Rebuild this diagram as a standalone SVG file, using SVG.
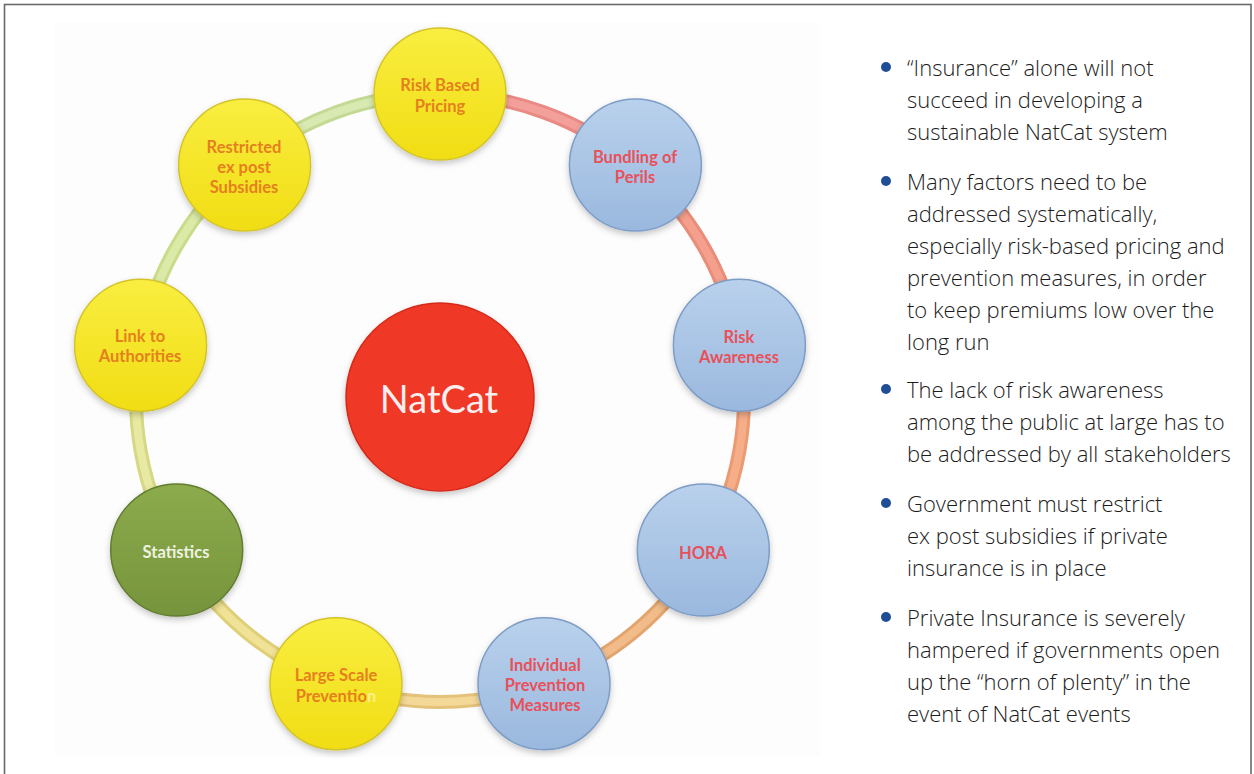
<svg xmlns="http://www.w3.org/2000/svg" width="1254" height="774" viewBox="0 0 1254 774">
<defs>
<style>
.lbl{font-family:Lato,"Liberation Sans",sans-serif;font-weight:700;font-size:16.5px;text-anchor:middle}
.ly{fill:#e5801e}
.lb{fill:#e8505a}
.lg{fill:#eef3e0}
.body{font-family:"Open Sans","Liberation Sans",sans-serif;font-weight:300;font-size:22px;fill:#1c1c1c}
.bul{fill:#1f4e96}
.co{fill:none;stroke-width:14;stroke-linecap:butt}
.ci{fill:none;stroke-width:8;stroke-linecap:butt}
.ny{fill:url(#gy);stroke:#d4c42a;stroke-width:1.5;filter:url(#sh)}
.nb{fill:url(#gb);stroke:#7d9cc6;stroke-width:1.5;filter:url(#sh)}
.ng{fill:url(#gg);stroke:#617d30;stroke-width:1.5;filter:url(#sh)}
</style>
<linearGradient id="gy" x1="0" y1="0" x2="0" y2="1">
<stop offset="0" stop-color="#f9ee40"/><stop offset="1" stop-color="#f1dd14"/>
</linearGradient>
<linearGradient id="gb" x1="0" y1="0" x2="0" y2="1">
<stop offset="0" stop-color="#b9d1ec"/><stop offset="1" stop-color="#9ab8de"/>
</linearGradient>
<linearGradient id="gg" x1="0" y1="0" x2="0" y2="1">
<stop offset="0" stop-color="#8cab4c"/><stop offset="1" stop-color="#76943c"/>
</linearGradient>
<filter id="sh" x="-20%" y="-20%" width="140%" height="150%">
<feDropShadow dx="0" dy="3" stdDeviation="3" flood-color="#000" flood-opacity="0.22"/>
</filter>
</defs>
<rect x="0" y="0" width="1254" height="774" fill="#ffffff"/>
<rect x="55" y="22" width="765" height="735" fill="#fdfdfd"/>
<rect x="4.5" y="4.5" width="1246.5" height="800" fill="none" stroke="#6a6a6a" stroke-width="1.6"/>

<g id="connectors">
<path class="co" stroke="#ea8a84" d="M440 94 A304 304 0 0 1 635.4 165.1"/>
<path class="ci" stroke="#f4a09a" d="M440 94 A304 304 0 0 1 635.4 165.1"/>
<path class="co" stroke="#ea8c7a" d="M635.4 165.1 A304 304 0 0 1 739.4 345.2"/>
<path class="ci" stroke="#f4a08c" d="M635.4 165.1 A304 304 0 0 1 739.4 345.2"/>
<path class="co" stroke="#eb9a72" d="M739.4 345.2 A304 304 0 0 1 703.3 550"/>
<path class="ci" stroke="#f5ae88" d="M739.4 345.2 A304 304 0 0 1 703.3 550"/>
<path class="co" stroke="#e3a56e" d="M703.3 550 A304 304 0 0 1 544 683.7"/>
<path class="ci" stroke="#f2bc8a" d="M703.3 550 A304 304 0 0 1 544 683.7"/>
<path class="co" stroke="#e4c27a" d="M544 683.7 A304 304 0 0 1 336 683.7"/>
<path class="ci" stroke="#f4d898" d="M544 683.7 A304 304 0 0 1 336 683.7"/>
<path class="co" stroke="#dfcf78" d="M336 683.7 A304 304 0 0 1 176.7 550"/>
<path class="ci" stroke="#f0e296" d="M336 683.7 A304 304 0 0 1 176.7 550"/>
<path class="co" stroke="#d5d884" d="M176.7 550 A304 304 0 0 1 140.6 345.2"/>
<path class="ci" stroke="#e8e9a2" d="M176.7 550 A304 304 0 0 1 140.6 345.2"/>
<path class="co" stroke="#c8dc8a" d="M140.6 345.2 A304 304 0 0 1 244.6 165.1"/>
<path class="ci" stroke="#dceaa8" d="M140.6 345.2 A304 304 0 0 1 244.6 165.1"/>
<path class="co" stroke="#c4da94" d="M244.6 165.1 A304 304 0 0 1 440 94"/>
<path class="ci" stroke="#d8eab2" d="M244.6 165.1 A304 304 0 0 1 440 94"/>
</g>

<g id="natcat">
<circle cx="440" cy="397" r="94" fill="#ef3825" stroke="#d42a1a" stroke-width="1.5" filter="url(#sh)"/>
<text x="439" y="413" text-anchor="middle" font-family="Lato,'Liberation Sans',sans-serif" font-size="38" fill="#fbeeee">NatCat</text>
</g>

<g id="risk-based-pricing">
<circle class="ny" cx="440" cy="94" r="66"/>
<text class="lbl ly" x="440" y="91">Risk Based</text>
<text class="lbl ly" x="440" y="112">Pricing</text>
</g>
<g id="bundling-of-perils">
<circle class="nb" cx="635.4" cy="165.1" r="66"/>
<text class="lbl lb" x="635" y="163">Bundling of</text>
<text class="lbl lb" x="635" y="183">Perils</text>
</g>
<g id="risk-awareness">
<circle class="nb" cx="739.4" cy="345.2" r="66"/>
<text class="lbl lb" x="739" y="343">Risk</text>
<text class="lbl lb" x="739" y="363">Awareness</text>
</g>
<g id="hora">
<circle class="nb" cx="703.3" cy="550" r="66"/>
<text class="lbl lb" x="703" y="559">HORA</text>
</g>
<g id="individual-prevention-measures">
<circle class="nb" cx="544" cy="683.7" r="66"/>
<text class="lbl lb" x="545" y="671">Individual</text>
<text class="lbl lb" x="545" y="691">Prevention</text>
<text class="lbl lb" x="545" y="711">Measures</text>
</g>
<g id="large-scale-prevention">
<circle class="ny" cx="336" cy="683.7" r="66"/>
<text class="lbl ly" x="336" y="681">Large Scale</text>
<text class="lbl ly" x="336" y="702">Preventio<tspan fill="#f7ef8a">n</tspan></text>
</g>
<g id="statistics">
<circle class="ng" cx="176.7" cy="550" r="66"/>
<text class="lbl lg" x="176" y="558">Statistics</text>
</g>
<g id="link-to-authorities">
<circle class="ny" cx="140.6" cy="345.2" r="66"/>
<text class="lbl ly" x="140" y="342">Link to</text>
<text class="lbl ly" x="140" y="362">Authorities</text>
</g>
<g id="restricted-ex-post-subsidies">
<circle class="ny" cx="244.6" cy="165.1" r="66"/>
<text class="lbl ly" x="244" y="153">Restricted</text>
<text class="lbl ly" x="244" y="173">ex post</text>
<text class="lbl ly" x="244" y="193">Subsidies</text>
</g>

<g id="bullets">
<circle class="bul" cx="886" cy="67" r="5"/>
<text class="body" x="907" y="76">“Insurance” alone will not</text>
<text class="body" x="907" y="108">succeed in developing a</text>
<text class="body" x="907" y="140">sustainable NatCat system</text>
<circle class="bul" cx="886" cy="181" r="5"/>
<text class="body" x="907" y="190">Many factors need to be</text>
<text class="body" x="907" y="222">addressed systematically,</text>
<text class="body" x="907" y="254">especially risk-based pricing and</text>
<text class="body" x="907" y="286">prevention measures, in order</text>
<text class="body" x="907" y="318">to keep premiums low over the</text>
<text class="body" x="907" y="350">long run</text>
<circle class="bul" cx="886" cy="389" r="5"/>
<text class="body" x="907" y="398">The lack of risk awareness</text>
<text class="body" x="907" y="430">among the public at large has to</text>
<text class="body" x="907" y="462">be addressed by all stakeholders</text>
<circle class="bul" cx="886" cy="503" r="5"/>
<text class="body" x="907" y="512">Government must restrict</text>
<text class="body" x="907" y="544">ex post subsidies if private</text>
<text class="body" x="907" y="576">insurance is in place</text>
<circle class="bul" cx="886" cy="617" r="5"/>
<text class="body" x="907" y="626">Private Insurance is severely</text>
<text class="body" x="907" y="658">hampered if governments open</text>
<text class="body" x="907" y="690">up the “horn of plenty” in the</text>
<text class="body" x="907" y="722">event of NatCat events</text>
</g>
</svg>
